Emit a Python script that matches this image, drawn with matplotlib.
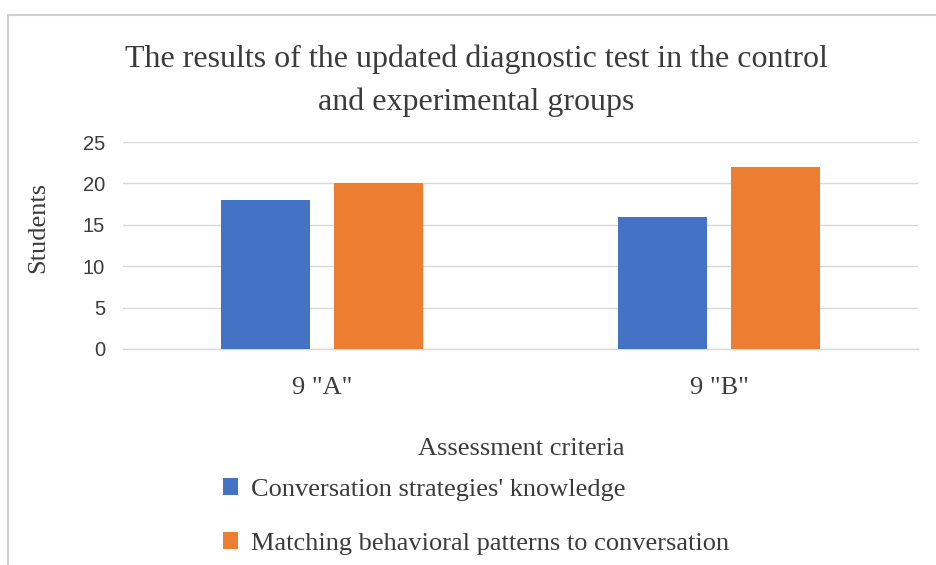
import matplotlib
matplotlib.use("Agg")
import matplotlib.pyplot as plt
from matplotlib.lines import Line2D
import numpy as np

#### Data ####
groups = ['9 "A"', '9 "B"']
knowledge = [18, 16]
matching = [20, 22]
series_names = ["Conversation strategies' knowledge",
                "Matching behavioral patterns to conversation"]
y_ticks = [0, 5, 10, 15, 20, 25]

BLUE = "#4472C4"
ORANGE = "#ED7D31"
TEXT = "#3b3b3b"
GRID = "#d9d9d9"
SERIF = "Liberation Serif"

W, H = 936, 565
fig = plt.figure(figsize=(W / 100, H / 100), dpi=100)

# plot area in pixels: x 123..918, y 142..349
ax = fig.add_axes([123 / W, 1 - 349 / H, 795 / W, 207 / H])

x = np.arange(len(groups))
bw = 0.224
off = 0.142
ax.bar(x - off, knowledge, bw, color=BLUE, label=series_names[0], zorder=3)
ax.bar(x + off, matching, bw, color=ORANGE, label=series_names[1], zorder=3)

ax.set_xlim(-0.5, len(groups) - 0.5)
ax.set_ylim(0, 25)
ax.set_yticks(y_ticks)
ax.set_xticks(x)
ax.set_xticklabels(groups, family=SERIF, fontsize=19, color=TEXT)
for lab in ax.get_yticklabels():
    lab.set_family("Liberation Sans")
    lab.set_fontsize(14.5)
    lab.set_color(TEXT)
ax.tick_params(axis="both", length=0)
ax.tick_params(axis="x", pad=20)
ax.tick_params(axis="y", pad=13)

ax.grid(axis="y", color=GRID, linewidth=1, zorder=0)
for s in ["top", "right", "left"]:
    ax.spines[s].set_visible(False)
ax.spines["bottom"].set_color(GRID)
ax.spines["bottom"].set_linewidth(1)

ax.set_ylabel("Students", family=SERIF, fontsize=19, color=TEXT)
ax.yaxis.set_label_coords(-0.107, 0.585)
ax.yaxis.label.set_va("center")

ax.set_xlabel("Assessment criteria", family=SERIF, fontsize=19, color=TEXT)
ax.xaxis.set_label_coords(0.5006, -0.483)
ax.xaxis.label.set_va("center")

fig.text(476 / W, 1 - 81 / H,
         "The results of the updated diagnostic test in the control\nand experimental groups",
         ha="center", va="center", family=SERIF, fontsize=23, color=TEXT,
         linespacing=1.6)

leg = ax.legend(loc="upper left", bbox_to_anchor=(223 / W, 1 - 478 / H),
                bbox_transform=fig.transFigure, frameon=False,
                prop={"family": SERIF, "size": 19}, handlelength=0.55,
                handleheight=0.63, handletextpad=0.5, labelspacing=1.17,
                borderpad=0, borderaxespad=0)
for t in leg.get_texts():
    t.set_color(TEXT)

# outer chart border (left and top edges visible)
fig.add_artist(Line2D([8 / W, 8 / W], [0, 1 - 15 / H], transform=fig.transFigure,
                      color="#cfcfcf", linewidth=1.5))
fig.add_artist(Line2D([8 / W, 1], [1 - 15 / H, 1 - 15 / H], transform=fig.transFigure,
                      color="#cfcfcf", linewidth=1.5))

fig.savefig("out.png", dpi=100)
